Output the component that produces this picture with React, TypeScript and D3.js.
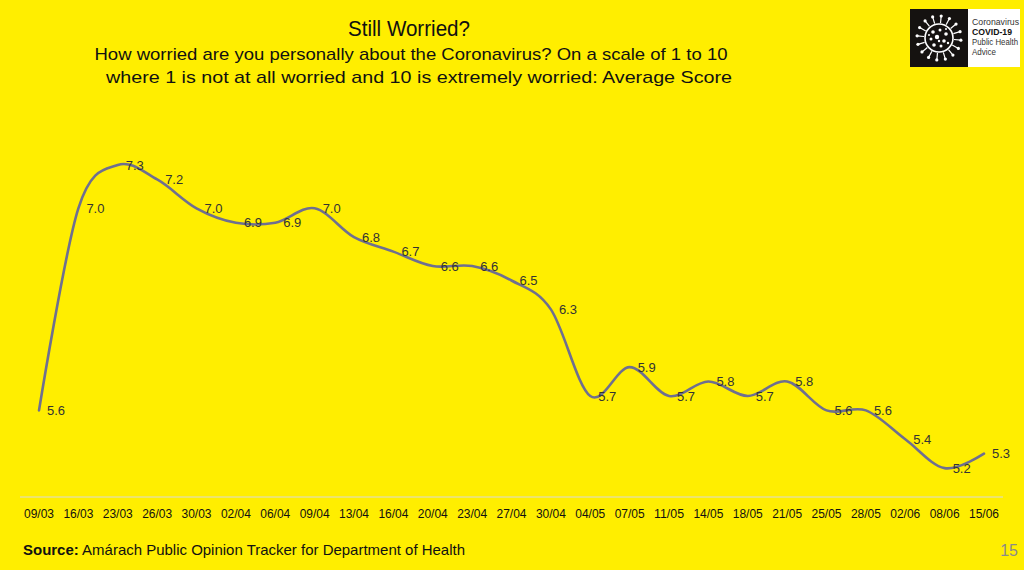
import React from "react";
import * as d3 from "d3";

const categories = ["09/03","16/03","23/03","26/03","30/03","02/04","06/04","09/04","13/04","16/04","20/04","23/04","27/04","30/04","04/05","07/05","11/05","14/05","18/05","21/05","25/05","28/05","02/06","08/06","15/06"];
const scores = [5.6,7.0,7.3,7.2,7.0,6.9,6.9,7.0,6.8,6.7,6.6,6.6,6.5,6.3,5.7,5.9,5.7,5.8,5.7,5.8,5.6,5.6,5.4,5.2,5.3];
const yDomain = [5, 8];

const W = 1024, H = 570;
const FONT = "'Liberation Sans', Arial, sans-serif";
const BG = "#FFEE00";

function VirusIcon({ cx, cy }: { cx: number; cy: number }) {
  const n = 16;
  const spikes = d3.range(n).map(i => (i / n) * 2 * Math.PI + 0.1);
  const dots: [number, number, number][] = [
    [-6, -6, 1.8], [1, -8, 1.5], [7, -4, 1.8], [-8, 1, 1.5], [-2, -1, 2.2], [5, 3, 1.8],
    [-5, 7, 1.8], [2, 8, 1.5], [9, 5, 1.2], [0, 3, 1.2], [-10, -3, 1.0], [7, -9, 1.0]
  ];
  return (
    <g>
      <circle cx={cx} cy={cy} r={14} fill="none" stroke="#fff" strokeWidth={1.6} />
      {spikes.map((a, i) => {
        const r1 = 15, r2 = 22;
        const x1 = cx + r1 * Math.cos(a), y1 = cy + r1 * Math.sin(a);
        const x2 = cx + r2 * Math.cos(a), y2 = cy + r2 * Math.sin(a);
        return (
          <g key={i}>
            <line x1={x1} y1={y1} x2={x2} y2={y2} stroke="#fff" strokeWidth={1.2} />
            <circle cx={x2} cy={y2} r={1.6} fill="#fff" />
          </g>
        );
      })}
      {dots.map(([dx, dy, r], i) => (
        <circle key={i} cx={cx + dx} cy={cy + dy} r={r} fill="#fff" />
      ))}
    </g>
  );
}

export default function App() {
  const x = d3.scalePoint<string>().domain(categories).range([39, 984]);
  const y = d3.scaleLinear().domain(yDomain).range([497, 64]);
  const line = d3
    .line<number>()
    .x((_, i) => x(categories[i]) as number)
    .y(d => y(d))
    .curve(d3.curveCardinal.tension(0));
  const path = line(scores) || "";

  return (
    <svg
      width={W}
      height={H}
      style={{ position: "absolute", left: 0, top: 0, display: "block" }}
      fontFamily={FONT}
    >
      <rect x={0} y={0} width={W} height={H} fill={BG} />

      {/* Titles */}
      <text x={409} y={36} textAnchor="middle" fontSize={22} fill="#111" textLength={122} lengthAdjust="spacingAndGlyphs">
        Still Worried?
      </text>
      <text x={411} y={60} textAnchor="middle" fontSize={17} fill="#111" textLength={633} lengthAdjust="spacingAndGlyphs">
        How worried are you personally about the Coronavirus? On a scale of 1 to 10
      </text>
      <text x={419} y={83} textAnchor="middle" fontSize={17} fill="#111" textLength={626} lengthAdjust="spacingAndGlyphs">
        where 1 is not at all worried and 10 is extremely worried: Average Score
      </text>

      {/* Logo */}
      <rect x={910} y={9} width={58} height={58} fill="#151210" />
      <rect x={968} y={9} width={52} height={58} fill="#fff" />
      <VirusIcon cx={939} cy={38} />
      <g fontSize={9} fill="#333">
        <text x={972} y={25} textLength={47} lengthAdjust="spacingAndGlyphs" fontWeight={300}>Coronavirus</text>
        <text x={972} y={35} fontWeight="bold" fill="#111" textLength={40} lengthAdjust="spacingAndGlyphs">COVID-19</text>
        <text x={972} y={45} textLength={46} lengthAdjust="spacingAndGlyphs">Public Health</text>
        <text x={972} y={55} textLength={24} lengthAdjust="spacingAndGlyphs">Advice</text>
      </g>

      {/* Baseline gridline */}
      <line x1={20} x2={1003} y1={y(yDomain[0])} y2={y(yDomain[0])} stroke="#d9d9d9" strokeWidth={1} />

      {/* X axis labels */}
      {categories.map(c => (
        <text key={c} x={x(c)} y={518} textAnchor="middle" fontSize={12} fill="#111" textLength={30} lengthAdjust="spacingAndGlyphs">
          {c}
        </text>
      ))}

      {/* Line */}
      <path d={path} fill="none" stroke="#6F6F90" strokeWidth={2.6} strokeLinecap="round" />

      {/* Data labels */}
      {scores.map((v, i) => (
        <text
          key={i}
          x={(x(categories[i]) as number) + 8}
          y={y(v)}
          dy="0.35em"
          fontSize={13}
          fill="#333"
        >
          {v.toFixed(1)}
        </text>
      ))}

      {/* Source */}
      <text x={23} y={555} fontSize={15} fill="#111" textLength={442} lengthAdjust="spacingAndGlyphs">
        <tspan fontWeight="bold">Source:</tspan> Amárach Public Opinion Tracker for Department of Health
      </text>
      <text x={1018} y={556} textAnchor="end" fontSize={16} fill="#8a8a8a">15</text>
    </svg>
  );
}
